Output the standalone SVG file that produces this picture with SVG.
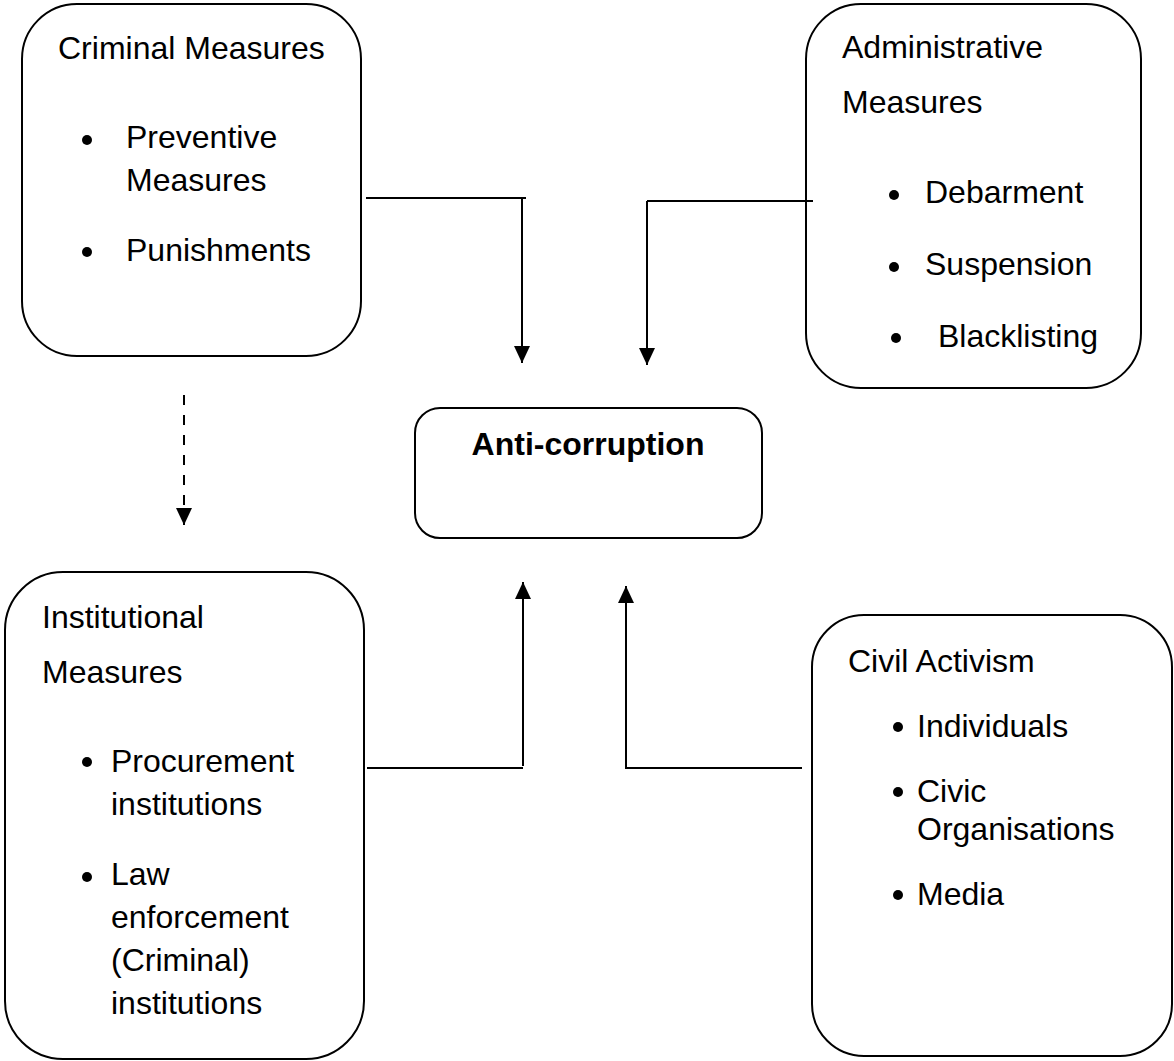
<svg xmlns="http://www.w3.org/2000/svg" width="1174" height="1061" viewBox="0 0 1174 1061">
<style>
.box{fill:#fff;stroke:#000;stroke-width:2}
.t{font-family:"Liberation Sans",Arial,sans-serif;font-size:32px;fill:#000}
.b{font-weight:bold}
.ln{fill:none;stroke:#000;stroke-width:2}
.dash{stroke-dasharray:10 10}
</style>
<defs>
<marker id="ah" markerWidth="17" markerHeight="17" viewBox="0 0 17 16" refX="17" refY="8" orient="auto" markerUnits="userSpaceOnUse">
<path d="M0,0 L17,8 L0,16 Z" fill="#000"/>
</marker>
</defs>
<rect width="1174" height="1061" fill="#fff"/>
<g id="criminal">
<rect class="box" x="22" y="4" width="339" height="352" rx="55" ry="55"/>
<text class="t" x="58" y="59">Criminal Measures</text>
<circle cx="87" cy="140" r="5"/>
<text class="t" x="126" y="148">Preventive</text>
<text class="t" x="126" y="191">Measures</text>
<circle cx="87" cy="252" r="5"/>
<text class="t" x="126" y="261">Punishments</text>
</g>
<g id="administrative">
<rect class="box" x="806" y="4" width="335" height="384" rx="55" ry="55"/>
<text class="t" x="842" y="58">Administrative</text>
<text class="t" x="842" y="113">Measures</text>
<circle cx="894" cy="195" r="5"/>
<text class="t" x="925" y="203">Debarment</text>
<circle cx="894" cy="267" r="5"/>
<text class="t" x="925" y="275">Suspension</text>
<circle cx="896" cy="338" r="5"/>
<text class="t" x="938" y="347">Blacklisting</text>
</g>
<g id="anticorruption">
<rect class="box" x="415" y="408" width="347" height="130" rx="25" ry="25"/>
<text class="t b" x="588" y="455" text-anchor="middle">Anti-corruption</text>
</g>
<g id="institutional">
<rect class="box" x="5" y="572" width="359" height="487" rx="58" ry="58"/>
<text class="t" x="42" y="628">Institutional</text>
<text class="t" x="42" y="683">Measures</text>
<circle cx="87" cy="762" r="5"/>
<text class="t" x="111" y="772">Procurement</text>
<text class="t" x="111" y="815">institutions</text>
<circle cx="87" cy="877" r="5"/>
<text class="t" x="111" y="885">Law</text>
<text class="t" x="111" y="928">enforcement</text>
<text class="t" x="111" y="971">(Criminal)</text>
<text class="t" x="111" y="1014">institutions</text>
</g>
<g id="civil">
<rect class="box" x="812" y="615" width="360" height="441" rx="52" ry="52"/>
<text class="t" x="848" y="672">Civil Activism</text>
<circle cx="898" cy="727" r="5"/>
<text class="t" x="917" y="737">Individuals</text>
<circle cx="898" cy="792" r="5"/>
<text class="t" x="917" y="802">Civic</text>
<text class="t" x="917" y="840">Organisations</text>
<circle cx="898" cy="895" r="5"/>
<text class="t" x="917" y="905">Media</text>
</g>
<g id="connectors">
<line class="ln" x1="366" y1="198" x2="526" y2="198"/>
<line class="ln" x1="522" y1="198" x2="522" y2="363" marker-end="url(#ah)"/>
<line class="ln" x1="813" y1="201" x2="647" y2="201"/>
<line class="ln" x1="647" y1="201" x2="647" y2="365" marker-end="url(#ah)"/>
<line class="ln" x1="367" y1="768" x2="523" y2="768"/>
<line class="ln" x1="523" y1="766" x2="523" y2="582" marker-end="url(#ah)"/>
<line class="ln" x1="802" y1="768" x2="626" y2="768"/>
<line class="ln" x1="626" y1="769" x2="626" y2="586" marker-end="url(#ah)"/>
<line class="ln dash" x1="184" y1="395" x2="184" y2="525" marker-end="url(#ah)"/>
</g>
</svg>
